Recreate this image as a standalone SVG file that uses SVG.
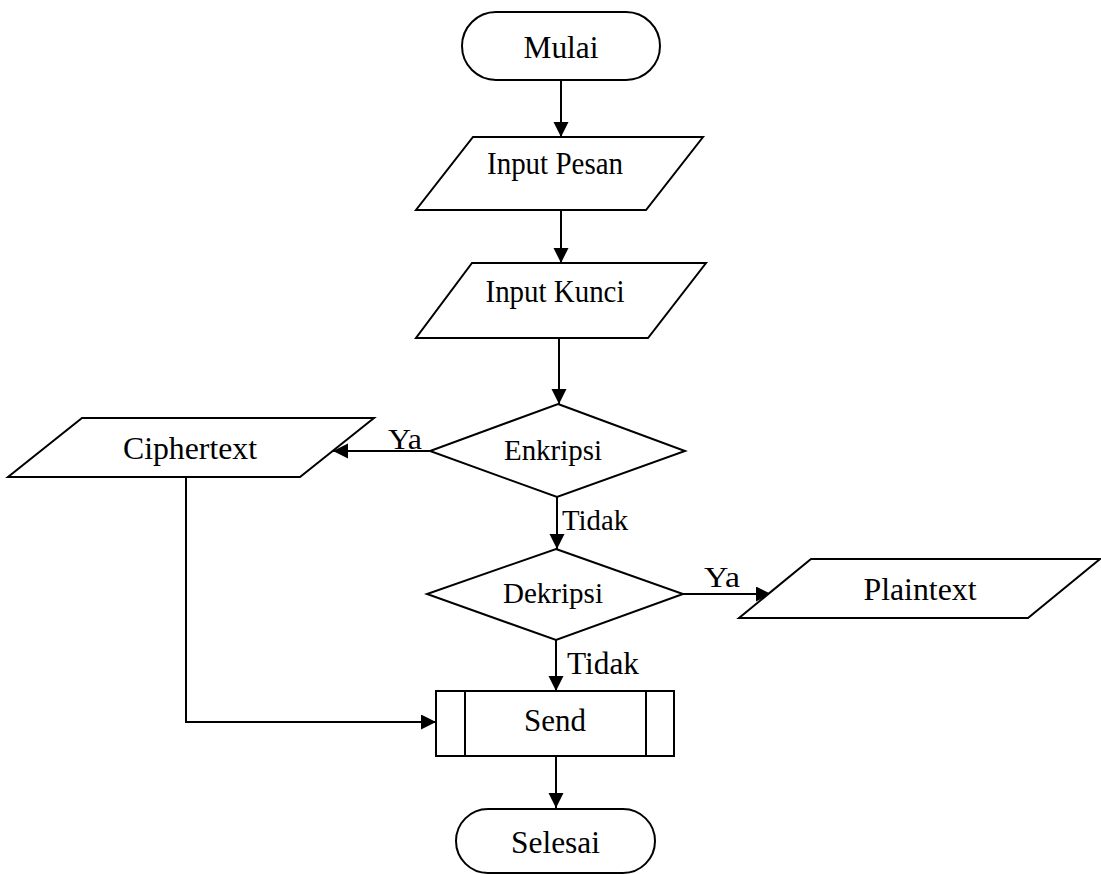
<svg xmlns="http://www.w3.org/2000/svg" width="1101" height="874" viewBox="0 0 1101 874">
  <defs>
    <marker id="arrow" markerUnits="userSpaceOnUse" markerWidth="16" markerHeight="16" refX="15" refY="7.5" orient="auto">
      <path d="M0,0 L15,7.5 L0,15 Z" fill="#000"/>
    </marker>
    <style>
      .shape { fill: #fff; stroke: #000; stroke-width: 2; }
      .line { fill: none; stroke: #000; stroke-width: 2; }
      .conn { fill: none; stroke: #000; stroke-width: 2; marker-end: url(#arrow); }
      .lbl { font-size: 32px; text-anchor: middle; }
      .small { font-size: 30px; text-anchor: middle; }
      .edge { font-size: 30px; }
    </style>
  </defs>
  <rect width="1101" height="874" fill="#fff"/>

  <g font-family="Liberation Serif, Times New Roman, serif" fill="#000">
  <!-- connectors -->
  <g id="connectors">
    <line class="conn" x1="561" y1="80" x2="561" y2="137"/>
    <line class="conn" x1="561" y1="210" x2="561" y2="263"/>
    <line class="conn" x1="559" y1="338" x2="559" y2="404"/>
    <line class="conn" x1="430" y1="451" x2="333" y2="451"/>
    <line class="conn" x1="557" y1="497" x2="557" y2="549"/>
    <line class="conn" x1="683" y1="594" x2="771" y2="594"/>
    <line class="conn" x1="556" y1="640" x2="556" y2="691"/>
    <polyline class="conn" points="186,477 186,722 436,722"/>
    <line class="conn" x1="556" y1="756" x2="556" y2="808"/>
    <text class="edge" x="388" y="449" textLength="34" lengthAdjust="spacingAndGlyphs">Ya</text>
    <text class="edge" x="562" y="530" textLength="66" lengthAdjust="spacingAndGlyphs">Tidak</text>
    <text class="edge" x="704" y="587" textLength="36" lengthAdjust="spacingAndGlyphs">Ya</text>
    <text class="edge" x="567" y="674" style="font-size:32px" textLength="72" lengthAdjust="spacingAndGlyphs">Tidak</text>
  </g>

  <g id="mulai">
    <rect class="shape" x="462" y="12" width="198" height="68" rx="34" ry="34"/>
    <text class="lbl" x="561" y="58" textLength="75" lengthAdjust="spacingAndGlyphs">Mulai</text>
  </g>

  <g id="input-pesan">
    <polygon class="shape" points="473,137 703,137 646,210 416,210"/>
    <text class="lbl" x="555" y="174" textLength="136" lengthAdjust="spacingAndGlyphs">Input Pesan</text>
  </g>

  <g id="input-kunci">
    <polygon class="shape" points="472,263 706,263 648,338 416,338"/>
    <text class="lbl" x="555" y="302" textLength="139" lengthAdjust="spacingAndGlyphs">Input Kunci</text>
  </g>

  <g id="enkripsi">
    <polygon class="shape" points="558,404 685,451 557,497 430,451"/>
    <text class="small" x="553" y="460" textLength="98" lengthAdjust="spacingAndGlyphs">Enkripsi</text>
  </g>

  <g id="ciphertext">
    <polygon class="shape" points="82,418 374,418 300,477 8,477"/>
    <text class="lbl" x="190" y="459" textLength="134" lengthAdjust="spacingAndGlyphs">Ciphertext</text>
  </g>

  <g id="dekripsi">
    <polygon class="shape" points="556,549 683,594 556,640 427,594"/>
    <text class="small" x="553" y="603" textLength="100" lengthAdjust="spacingAndGlyphs">Dekripsi</text>
  </g>

  <g id="plaintext">
    <polygon class="shape" points="811,559 1100,559 1028,618 739,618"/>
    <text class="lbl" x="920" y="600" textLength="113" lengthAdjust="spacingAndGlyphs">Plaintext</text>
  </g>

  <g id="send">
    <rect class="shape" x="436" y="691" width="238" height="65"/>
    <line class="line" x1="465" y1="691" x2="465" y2="756"/>
    <line class="line" x1="646" y1="691" x2="646" y2="756"/>
    <text class="lbl" x="555" y="731" textLength="62" lengthAdjust="spacingAndGlyphs">Send</text>
  </g>

  <g id="selesai">
    <rect class="shape" x="456" y="809" width="199" height="64" rx="32" ry="32"/>
    <text class="lbl" x="555.5" y="853" textLength="89" lengthAdjust="spacingAndGlyphs">Selesai</text>
  </g>
  </g>
</svg>
